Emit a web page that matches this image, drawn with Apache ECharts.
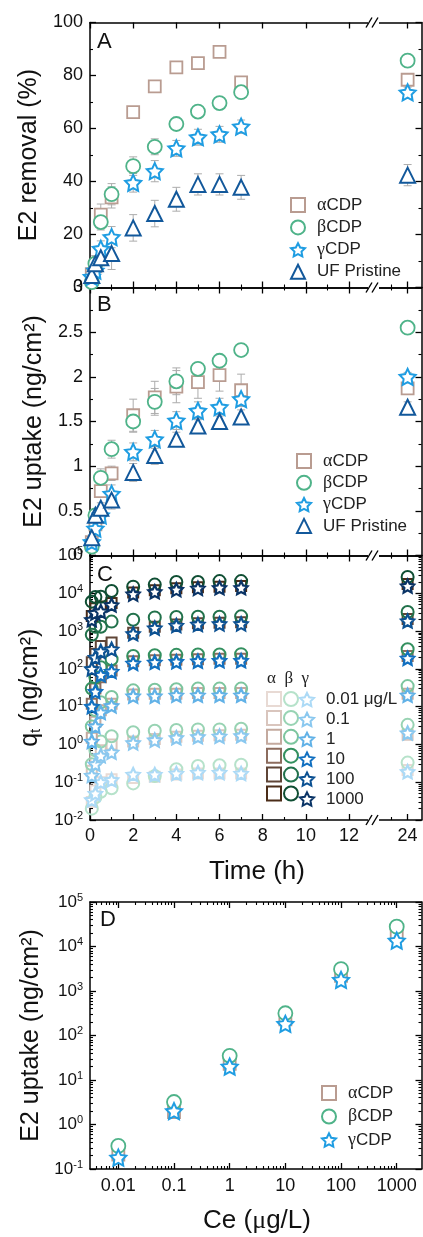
<!DOCTYPE html>
<html>
<head>
<meta charset="utf-8">
<script src="https://cdn.jsdelivr.net/npm/echarts@6/dist/echarts.min.js"></script>
<style>html,body{margin:0;background:#fff}#main{width:423px;height:1237px}</style>
</head>
<body>
<div id="main"></div>
<script>
// sampling times (h)
var times = [0.083, 0.25, 0.5, 1, 2, 3, 4, 5, 6, 7, 24];

// A: E2 removal (%)
var remAlpha = [5, 8, 27.5, 34, 66.2, 75.9, 83.1, 84.7, 88.9, 77.4, 78.4];
var remAlphaErr = [2, 3, 4, 4, 2, 2, 2, 2, 2, 2, 2];
var remBeta = [2, 9, 24.7, 35.2, 45.8, 53.1, 61.7, 66.4, 69.6, 73.7, 85.6];
var remBetaErr = [2, 3, 3, 4, 3.5, 3, 2, 2, 2, 2, 2];
var remGamma = [4, 6.4, 14.6, 19, 39.5, 43.9, 52.5, 56.7, 57.8, 60.7, 73.6];
var remGammaErr = [2, 3, 3, 4, 3.5, 4, 3, 3, 3, 2.5, 2];
var remUF = [4.5, 9, 11.2, 12.8, 22.5, 27.9, 33.3, 38.9, 38.9, 37.8, 42.4];
var remUFErr = [2, 3, 3, 6, 5, 5, 4.5, 4, 4, 4.5, 4];

// B: E2 uptake (ng/cm2)
var upAlpha = [0.15, 0.35, 0.72, 0.92, 1.57, 1.77, 1.89, 1.94, 2.02, 1.85, 1.87];
var upAlphaErr = [0.05, 0.05, 0.06, 0.08, 0.18, 0.18, 0.18, 0.18, 0.18, 0.18, 0.05];
var upBeta = [0.1, 0.45, 0.87, 1.19, 1.5, 1.72, 1.95, 2.09, 2.18, 2.3, 2.55];
var upBetaErr = [0.03, 0.05, 0.1, 0.1, 0.12, 0.15, 0.15, 0.05, 0.05, 0.05, 0.05];
var upGamma = [0.15, 0.3, 0.45, 0.69, 1.16, 1.3, 1.51, 1.62, 1.66, 1.75, 2.0];
var upGammaErr = [0.03, 0.05, 0.06, 0.1, 0.1, 0.1, 0.1, 0.1, 0.1, 0.08, 0.05];
var upUF = [0.2, 0.45, 0.53, 0.62, 0.93, 1.12, 1.3, 1.45, 1.5, 1.55, 1.66];
var upUFErr = [0.03, 0.05, 0.06, 0.1, 0.1, 0.1, 0.08, 0.08, 0.08, 0.08, 0.06];

// C: qt (ng/cm2), one row per concentration (0.01 ... 1000 ug/L)
var concLabels = ['0.01 μg/L', '0.1', '1', '10', '100', '1000'];
var qAlpha = [
  [0.03, 0.06, 0.10, 0.12, 0.13, 0.14, 0.16, 0.17, 0.17, 0.17, 0.21],
  [0.2, 0.4, 0.7, 1.0, 1.2, 1.4, 1.6, 1.7, 1.75, 1.8, 1.8],
  [1.5, 4, 8, 12, 21, 22, 22, 23, 23, 23, 22],
  [12, 30, 60, 90, 160, 170, 175, 180, 185, 185, 220],
  [150, 250, 400, 500, 900, 1300, 1500, 1600, 1650, 1700, 2100],
  [2500, 4000, 4500, 5500, 10500, 12000, 13500, 14500, 15000, 15500, 17500]
];
var qBeta = [
  [0.02, 0.04, 0.056, 0.069, 0.093, 0.145, 0.22, 0.27, 0.28, 0.29, 0.33],
  [0.3, 0.7, 1.2, 1.65, 2.1, 2.3, 2.4, 2.5, 2.5, 2.6, 3.3],
  [3, 8, 13, 18, 27, 28, 29, 30, 30, 30, 35],
  [30, 60, 110, 180, 220, 230, 235, 240, 240, 245, 330],
  [800, 1300, 1300, 1780, 2000, 2300, 2350, 2400, 2400, 2450, 3200],
  [6000, 8000, 8100, 11500, 15000, 17000, 20000, 20000, 21000, 21000, 27000]
];
var qGamma = [
  [0.034, 0.05, 0.10, 0.115, 0.16, 0.16, 0.17, 0.18, 0.18, 0.17, 0.19],
  [0.15, 0.3, 0.5, 0.62, 1.1, 1.3, 1.5, 1.6, 1.65, 1.7, 2.0],
  [1.2, 3, 7, 10.5, 19, 19, 20, 20, 20, 20, 20],
  [10, 25, 69, 85, 140, 150, 155, 160, 165, 165, 190],
  [100, 200, 290, 330, 850, 1200, 1400, 1500, 1550, 1550, 1850],
  [2000, 3000, 3300, 4900, 9500, 11000, 12500, 13500, 14000, 14000, 15500]
];

// D: uptake vs Ce
var ce = [0.01, 0.1, 1, 10, 100, 1000];
var ceLabels = ['0.01', '0.1', '1', '10', '100', '1000'];
var dAlpha = [0.21, 1.9, 23, 230, 2200, 18000];
var dBeta = [0.33, 3.2, 35, 316, 3100, 27900];
var dGamma = [0.18, 2.0, 20, 182, 1780, 13500];

// colours
var cA = '#b99c91', cB = '#4fb389', cG = '#1f9de2', cUF = '#12589b';
var colAlpha = ['#e8dad4', '#d9c5bd', '#c4aa9f', '#8c6c5e', '#5f4537', '#4a2c18'];
var colBeta = ['#b6e2ca', '#98d3b3', '#7cc59e', '#33905f', '#21714b', '#0f4e33'];
var colGamma = ['#acdaf6', '#8ac8ef', '#62b2e7', '#1270c0', '#0c5192', '#0a3466'];

var FONT = 'Liberation Sans';
var SERIF = 'Liberation Serif';

// 5-point star path
var star = (function () {
  var p = [];
  for (var i = 0; i < 10; i++) {
    var r = i % 2 ? 0.5 : 1, a = Math.PI / 5 * i - Math.PI / 2;
    p.push((r * Math.cos(a)).toFixed(3) + ' ' + (r * Math.sin(a)).toFixed(3));
  }
  return 'path://M' + p.join(' L') + ' Z';
})();

var grid = [], xAxis = [], yAxis = [], series = [];

function addGrid(left, top, width, height) {
  grid.push({left: left, top: top, width: width, height: height});
  return grid.length - 1;
}

function addAxis(list, o, major, minor, label) {
  var base = {gridIndex: o.grid, type: o.type, position: o.pos, min: o.min, max: o.max,
    splitLine: {show: false},
    axisLine: {show: true, onZero: false, lineStyle: {color: '#000', width: 1.5}}};
  if (o.type === 'log') base.logBase = 10;
  var ax = Object.assign({}, base, {
    axisTick: {show: true, inside: true, length: 6, customValues: major, lineStyle: {color: '#000', width: 1.3}},
    axisLabel: label ? Object.assign({show: true, customValues: major, margin: 7, color: '#111',
      fontFamily: FONT, fontSize: 18}, label) : {show: false}
  }, o.extra || {});
  list.push(ax);
  var idx = list.length - 1;
  if (minor && minor.length) {
    list.push(Object.assign({}, base, {
      axisLine: {show: false},
      axisTick: {show: true, inside: true, length: 3, customValues: minor, lineStyle: {color: '#000', width: 1.1}},
      axisLabel: {show: false}
    }));
  }
  return idx;
}

function logMinor(lo, hi) {
  var out = [];
  for (var e = lo; e < hi; e++)
    for (var k = 2; k < 10; k++) out.push(k * Math.pow(10, e));
  return out;
}

function supFmt(v) {
  return '{b|10}{s|' + Math.round(Math.log10(v)) + '}';
}
var supRich = {b: {fontSize: 17, fontFamily: FONT, color: '#111'},
               s: {fontSize: 11, fontFamily: FONT, color: '#111', padding: [0, 0, 9, 0]}};

// time panels: left part 0-13 h, right part around 24 h
function timePanel(top, h, y, showX) {
  var gL = addGrid(90, top, 280, h), gR = addGrid(377, top, 44.5, h);
  var xl = showX ? {formatter: function (v) { return String(Math.round(v)); }} : null;
  var P = {};
  P.xL = addAxis(xAxis, {grid: gL, type: 'value', pos: 'bottom', min: 0, max: 12.97},
    [0, 2, 4, 6, 8, 10, 12], [1, 3, 5, 7, 9, 11], xl);
  addAxis(xAxis, {grid: gL, type: 'value', pos: 'top', min: 0, max: 12.97},
    [0, 2, 4, 6, 8, 10, 12], [1, 3, 5, 7, 9, 11], null);
  P.xR = addAxis(xAxis, {grid: gR, type: 'value', pos: 'bottom', min: 22.08, max: 24.87}, [24], [23], xl);
  addAxis(xAxis, {grid: gR, type: 'value', pos: 'top', min: 22.08, max: 24.87}, [24], [23], null);
  P.yL = addAxis(yAxis, {grid: gL, type: y.type, pos: 'left', min: y.min, max: y.max, extra: {
      name: y.name, nameLocation: 'middle', nameGap: y.gap,
      nameTextStyle: {fontSize: 25, fontFamily: FONT, color: '#111', rich: y.rich}}},
    y.major, y.minor, y.label);
  P.yR = addAxis(yAxis, {grid: gR, type: y.type, pos: 'right', min: y.min, max: y.max}, y.major, y.minor, null);
  return P;
}

function pts(vals, errs, right) {
  var out = [];
  for (var i = 0; i < times.length; i++) {
    if ((times[i] > 13) === right) out.push(errs ? [times[i], vals[i], errs[i]] : [times[i], vals[i]]);
  }
  return out;
}

function errRender(params, api) {
  var x = api.value(0), y = api.value(1), e = api.value(2);
  var hi = api.coord([x, y + e]), lo = api.coord([x, y - e]);
  var st = {stroke: '#acacac', lineWidth: 1};
  return {type: 'group', children: [
    {type: 'line', shape: {x1: hi[0], y1: hi[1], x2: lo[0], y2: lo[1]}, style: st},
    {type: 'line', shape: {x1: hi[0] - 4, y1: hi[1], x2: hi[0] + 4, y2: hi[1]}, style: st},
    {type: 'line', shape: {x1: lo[0] - 4, y1: lo[1], x2: lo[0] + 4, y2: lo[1]}, style: st}
  ]};
}

function addTimeSeries(P, name, vals, errs, sym, size, color, fill, bw) {
  [false, true].forEach(function (right) {
    var xi = right ? P.xR : P.xL, yi = right ? P.yR : P.yL;
    if (errs) {
      series.push({type: 'custom', renderItem: errRender, xAxisIndex: xi, yAxisIndex: yi, z: 1,
        encode: {x: 0, y: 1}, data: pts(vals, errs, right), silent: true});
    }
    series.push({type: 'scatter', name: name, xAxisIndex: xi, yAxisIndex: yi, z: 3,
      symbol: sym, symbolSize: size, data: pts(vals, null, right),
      itemStyle: {color: fill, borderColor: color, borderWidth: bw, opacity: 1}});
  });
}

var PA = timePanel(22.5, 265, {type: 'value', min: 0, max: 100, major: [0, 20, 40, 60, 80, 100],
  minor: [10, 30, 50, 70, 90], label: {}, name: 'E2 removal (%)', gap: 35}, false);
var PB = timePanel(287.5, 268, {type: 'value', min: 0, max: 3, major: [0, 0.5, 1, 1.5, 2, 2.5, 3],
  minor: [0.25, 0.75, 1.25, 1.75, 2.25, 2.75], label: {}, name: 'E2 uptake (ng/cm²)', gap: 39}, false);
var PC = timePanel(555.5, 264.5, {type: 'log', min: 0.01, max: 100000,
  major: [0.01, 0.1, 1, 10, 100, 1000, 10000, 100000], minor: logMinor(-2, 5),
  label: {formatter: supFmt, rich: supRich}, name: '{n|q}{t|t}{n| (ng/cm²)}', gap: 45,
  rich: {n: {fontSize: 25, fontFamily: FONT, color: '#111'}, t: {fontSize: 15, fontFamily: FONT, color: '#111', padding: [12, 0, 0, 0]}}}, true);

addTimeSeries(PA, 'αCDP', remAlpha, remAlphaErr, 'rect', 12, cA, '#fff', 1.8);
addTimeSeries(PA, 'βCDP', remBeta, remBetaErr, 'circle', 14, cB, '#fff', 1.8);
addTimeSeries(PA, 'γCDP', remGamma, remGammaErr, star, 16, cG, '#fff', 2);
addTimeSeries(PA, 'UF Pristine', remUF, remUFErr, 'triangle', 15, cUF, '#fff', 2);

addTimeSeries(PB, 'αCDP', upAlpha, upAlphaErr, 'rect', 12, cA, '#fff', 1.8);
addTimeSeries(PB, 'βCDP', upBeta, upBetaErr, 'circle', 14, cB, '#fff', 1.8);
addTimeSeries(PB, 'γCDP', upGamma, upGammaErr, star, 16, cG, '#fff', 2);
addTimeSeries(PB, 'UF Pristine', upUF, upUFErr, 'triangle', 15, cUF, '#fff', 2);

for (var k = 0; k < 6; k++) {
  addTimeSeries(PC, 'α' + k, qAlpha[k], null, 'rect', 10, colAlpha[k], '#fff', 2);
  addTimeSeries(PC, 'β' + k, qBeta[k], null, 'circle', 12, colBeta[k], 'rgba(255,255,255,0)', 2);
  addTimeSeries(PC, 'γ' + k, qGamma[k], null, star, 13, colGamma[k], '#fff', 2.2);
}

// panel D
var gD = addGrid(90, 902, 331.5, 267);
var dxi = addAxis(xAxis, {grid: gD, type: 'log', pos: 'bottom', min: 0.0031, max: 2786}, ce, logMinor(-3, 3),
  {formatter: function (v) { return ceLabels[Math.round(Math.log10(v)) + 2]; }, margin: 8});
addAxis(xAxis, {grid: gD, type: 'log', pos: 'top', min: 0.0031, max: 2786}, ce, logMinor(-3, 3), null);
var dyi = addAxis(yAxis, {grid: gD, type: 'log', pos: 'left', min: 0.1, max: 100000, extra: {
    name: 'E2 uptake (ng/cm²)', nameLocation: 'middle', nameGap: 42,
    nameTextStyle: {fontSize: 25, fontFamily: FONT, color: '#111'}}},
  [0.1, 1, 10, 100, 1000, 10000, 100000], logMinor(-1, 5), {formatter: supFmt, rich: supRich});
addAxis(yAxis, {grid: gD, type: 'log', pos: 'right', min: 0.1, max: 100000},
  [0.1, 1, 10, 100, 1000, 10000, 100000], logMinor(-1, 5), null);

function dSeries(name, vals, sym, size, color, bw) {
  series.push({type: 'scatter', name: name, xAxisIndex: dxi, yAxisIndex: dyi, z: 3, symbol: sym, symbolSize: size,
    data: ce.map(function (c, i) { return [c, vals[i]]; }),
    itemStyle: {color: '#fff', borderColor: color, borderWidth: bw, opacity: 1}});
}
dSeries('αCDP', dAlpha, 'rect', 12, cA, 1.8);
dSeries('βCDP', dBeta, 'circle', 14, cB, 1.8);
dSeries('γCDP', dGamma, star, 16, cG, 2);

function greek(name) {
  return /^[αβγ]/.test(name) ? '{g|' + name.charAt(0) + '}' + name.slice(1) : name;
}
var legText = {fontSize: 17, fontFamily: FONT, color: '#222', lineHeight: 14, padding: [0, 0, 0, 7],
  rich: {g: {fontSize: 18, fontFamily: SERIF, color: '#222', lineHeight: 14}}};

function legend(left, top, gap, names, fmt) {
  return {left: left, top: top, orient: 'vertical', padding: 0, itemWidth: 14, itemHeight: 14,
    itemGap: gap, selectedMode: false, data: names, formatter: fmt || greek, textStyle: legText};
}
var aNames = [], bNames = [], gNames = [];
for (var k2 = 0; k2 < 6; k2++) { aNames.push('α' + k2); bNames.push('β' + k2); gNames.push('γ' + k2); }

var legends = [
  legend(290, 196, 4.4, ['αCDP', 'βCDP', 'γCDP', 'UF Pristine']),
  legend(296, 452, 3.8, ['αCDP', 'βCDP', 'γCDP', 'UF Pristine']),
  legend(321, 1084, 5.5, ['αCDP', 'βCDP', 'γCDP']),
  legend(266, 691, 2.9, aNames, function () { return ''; }),
  legend(283, 691, 2.9, bNames, function () { return ''; }),
  legend(299, 691, 2.9, gNames, function (n) { return concLabels[+n.charAt(1)]; })
];

var titleStyle = {fontSize: 22, fontWeight: 'normal', fontFamily: FONT, color: '#111'};
var titles = [
  {text: 'A', left: 97, top: 31, padding: 0, textStyle: titleStyle},
  {text: 'B', left: 97, top: 294, padding: 0, textStyle: titleStyle},
  {text: 'C', left: 97, top: 564, padding: 0, textStyle: titleStyle},
  {text: 'D', left: 100, top: 909, padding: 0, textStyle: titleStyle},
  {text: 'α  β  γ', left: 267, top: 670, padding: 0,
    textStyle: {fontSize: 17, fontWeight: 'normal', fontFamily: SERIF, color: '#222'}},
  {text: 'Time (h)', left: 257, top: 859, padding: 0, textAlign: 'center',
    textStyle: {fontSize: 26, fontWeight: 'normal', fontFamily: FONT, color: '#111'}},
  {text: 'Ce ({m|μ}g/L)', left: 257, top: 1208, padding: 0, textAlign: 'center',
    textStyle: {fontSize: 26, fontWeight: 'normal', fontFamily: FONT, color: '#111',
      rich: {m: {fontSize: 26, fontFamily: SERIF, color: '#111'}}}}
];

// axis break marks
var breaks = [];
[22.5, 287.5, 555.5, 820].forEach(function (y) {
  breaks.push({type: 'rect', shape: {x: 368, y: y - 3, width: 11, height: 6}, style: {fill: '#fff'}, z: 50});
  [366, 372].forEach(function (x) {
    breaks.push({type: 'line', shape: {x1: x, y1: y + 5, x2: x + 6, y2: y - 5},
      style: {stroke: '#000', lineWidth: 1.4}, z: 51});
  });
});

var chart = echarts.init(document.getElementById('main'));
chart.setOption({
  animation: false,
  backgroundColor: '#fff',
  title: titles,
  legend: legends,
  grid: grid,
  xAxis: xAxis,
  yAxis: yAxis,
  series: series,
  graphic: breaks
});
</script>
</body>
</html>
